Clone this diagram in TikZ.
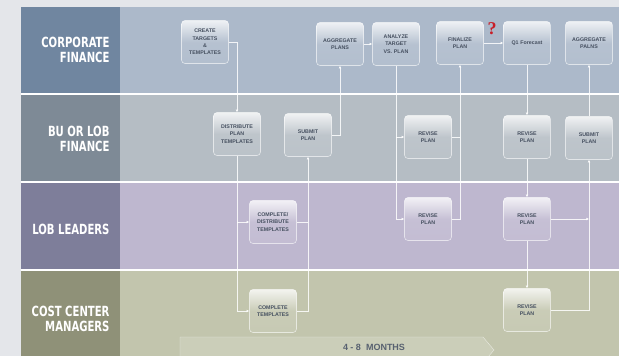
\documentclass[tikz,border=0pt]{standalone}
\usepackage{fontspec}
\setmainfont{Liberation Sans}
\newfontfamily\lanefont{DejaVu Sans Condensed}[FakeStretch=0.8]
\newfontfamily\queryfont{Liberation Serif}
\definecolor{pagegray}{RGB}{228,230,234}
\definecolor{corplabel}{RGB}{112,134,160}
\definecolor{corplane}{RGB}{172,185,202}
\definecolor{bulabel}{RGB}{126,138,150}
\definecolor{bulane}{RGB}{181,189,196}
\definecolor{loblabel}{RGB}{126,126,154}
\definecolor{loblane}{RGB}{190,183,207}
\definecolor{cclabel}{RGB}{143,145,120}
\definecolor{cclane}{RGB}{194,197,173}
\definecolor{boxtext}{RGB}{70,80,96}
\definecolor{qred}{RGB}{200,30,40}
\usetikzlibrary{arrows.meta}

\begin{document}
\begin{tikzpicture}[x=1pt,y=-1pt,
  task/.style={draw=white,draw opacity=0.6,line width=0.6pt,rounded corners=3.5pt,
    minimum width=47pt,minimum height=43pt,text width=45pt,align=center,inner sep=0pt,
    top color=#1!20!white,bottom color=#1!92!white,middle color=#1!88!white,
    text=boxtext,font=\fontsize{5.3}{7.4}\selectfont\bfseries},
  lanelabel/.style={anchor=east,align=right,text=white,
    font=\lanefont\fontsize{14}{15.5}\selectfont\bfseries},
  flow/.style={draw=white,draw opacity=0.85,line width=0.7pt,
    -{Latex[length=2.6pt,width=2.8pt]}},
  line/.style={draw=white,draw opacity=0.85,line width=0.7pt}]
\useasboundingbox (0,0) rectangle (619,356);
\clip (0,0) rectangle (619,356);
\fill[pagegray] (0,0) rectangle (619,356);
% lanes
\fill[corplabel] (21,7) rectangle (120,94);
\fill[corplane] (120,7) rectangle (619,94);
\fill[bulabel] (21,94) rectangle (120,182);
\fill[bulane] (120,94) rectangle (619,182);
\fill[loblabel] (21,182) rectangle (120,270);
\fill[loblane] (120,182) rectangle (619,270);
\fill[cclabel] (21,270) rectangle (120,356);
\fill[cclane] (120,270) rectangle (619,356);
\foreach \y in {94,182,270}
  \draw[white,line width=1.2pt] (21,\y) -- (619,\y);
\node[lanelabel] (corp) at (113,50) {CORPORATE\\FINANCE};
\node[lanelabel] (bu) at (113,139) {BU OR LOB\\FINANCE};
\node[lanelabel] (lob) at (113,229) {LOB LEADERS};
\node[lanelabel] (cc) at (113,319) {COST CENTER\\MANAGERS};
% time span
\draw[white,draw opacity=0.6,fill=cclane!85!white] (180,337) -- (483,337) -- (494,350)
  -- (483,363) -- (180,363) -- cycle;
\node[text=boxtext!90!white,font=\fontsize{9}{10}\selectfont\bfseries] (months)
  at (374,347) {4 - 8~~MONTHS};
% tasks
\node[task=corplane] (create) at (205,42) {CREATE\\TARGETS\\\&\\TEMPLATES};
\node[task=corplane] (aggregate1) at (340,44) {AGGREGATE\\PLANS};
\node[task=corplane] (analyze) at (396,44) {ANALYZE\\TARGET\\VS. PLAN};
\node[task=corplane] (finalize) at (460,43) {FINALIZE\\PLAN};
\node[task=corplane] (forecast) at (527,43) {Q1 Forecast};
\node[task=corplane] (aggregate2) at (589,43) {AGGREGATE\\PALNS};
\node[task=bulane] (distribute) at (237,134) {DISTRIBUTE\\PLAN\\TEMPLATES};
\node[task=bulane] (submit1) at (308,135) {SUBMIT\\PLAN};
\node[task=bulane] (revise1) at (428,137) {REVISE\\PLAN};
\node[task=bulane] (revise3) at (527,137) {REVISE\\PLAN};
\node[task=bulane] (submit2) at (589,138) {SUBMIT\\PLAN};
\node[task=loblane] (compdist) at (273,222) {COMPLETE/\\DISTRIBUTE\\TEMPLATES};
\node[task=loblane] (revise2) at (428,219) {REVISE\\PLAN};
\node[task=loblane] (revise4) at (527,219) {REVISE\\PLAN};
\node[task=cclane] (complete) at (273,311) {COMPLETE\\TEMPLATES};
\node[task=cclane] (revise5) at (527,310) {REVISE\\PLAN};
\node[text=qred,font=\queryfont\fontsize{18}{18}\selectfont\bfseries] (query) at (492,29) {?};
% connectors
\draw[flow] (create.east) -| (distribute.north);
\draw[flow] (distribute.south) |- (complete.west);
\draw[flow] (distribute.south |- compdist.west) -- (compdist.west);
\draw[flow] (complete.east) -| (submit1.south);
\draw[line] (compdist.east) -- (compdist.east -| submit1.south);
\draw[flow] (submit1.east) -| (aggregate1.south);
\draw[flow] (aggregate1) -- (analyze);
\draw[flow] (analyze.south) |- (revise2.west);
\draw[flow] (analyze.south |- revise1.west) -- (revise1.west);
\draw[flow] (revise2.east) -| (finalize.south);
\draw[line] (revise1.east) -- (revise1.east -| finalize.south);
\draw[flow] (finalize) -- (forecast);
\draw[flow] (forecast) -- (revise3);
\draw[flow] (revise3) -- (revise4);
\draw[flow] (revise4) -- (revise5);
\draw[flow] (revise5.east) -| (submit2.south);
\draw[flow] (revise4.east) -- (revise4.east -| submit2.south);
\draw[flow] (submit2) -- (aggregate2);
\end{tikzpicture}
\end{document}
